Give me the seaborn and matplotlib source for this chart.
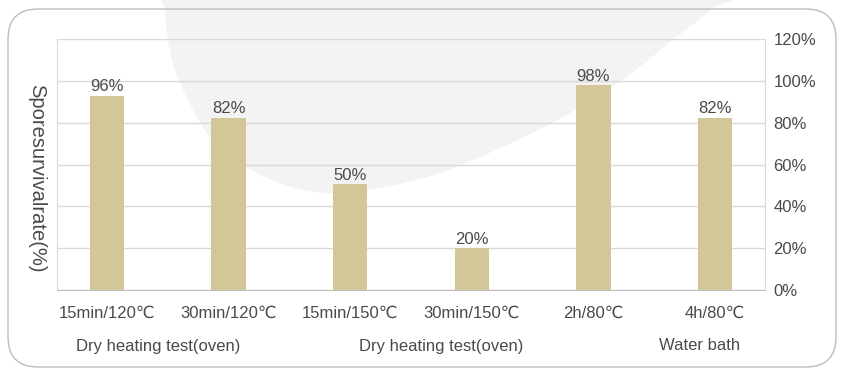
import numpy as np
import pandas as pd
import matplotlib
matplotlib.use("Agg")
import matplotlib.pyplot as plt
import matplotlib.transforms as mtransforms
from matplotlib.patches import FancyBboxPatch, Polygon
from matplotlib.ticker import FuncFormatter
import seaborn as sns

# dados
conditions = ["15min/120℃", "30min/120℃", "15min/150℃", "30min/150℃", "2h/80℃", "4h/80℃"]
survival = [93, 82.5, 50.5, 20, 98, 82.5]          # altura das barras como desenhadas
value_labels = ["96%", "82%", "50%", "20%", "98%", "82%"]
groups = ["Dry heating test(oven)", "Dry heating test(oven)", "Water bath"]
group_pos = [0.42, 2.75, 4.87]
yticks = [0, 20, 40, 60, 80, 100, 120]

df = pd.DataFrame({"condition": conditions, "survival": survival})

sns.set_style("white")
plt.rcParams["font.family"] = ["Liberation Sans", "DejaVu Sans"]

text_color = "#4a4a4a"
bar_color = "#d3c799"

W, H = 842, 371
fig = plt.figure(figsize=(W / 100, H / 100), dpi=100)
fig.patch.set_facecolor("white")

# mancha cinza de fundo (pixels, y a partir do topo)
blob = np.array([(168, -30), (165, 10), (172, 60), (188, 100), (212, 140), (246, 167),
                 (285, 185), (330, 193), (390, 186), (456, 167), (552, 123), (621, 81),
                 (674, 39), (712, 9), (740, -20), (600, -120), (350, -120)], dtype=float)
n = len(blob)
curve = []
for i in range(n):
    p0, p1, p2, p3 = blob[i - 1], blob[i], blob[(i + 1) % n], blob[(i + 2) % n]
    for t in np.linspace(0, 1, 16, endpoint=False):
        t2, t3 = t * t, t * t * t
        curve.append(0.5 * ((2 * p1) + (-p0 + p2) * t + (2 * p0 - 5 * p1 + 4 * p2 - p3) * t2
                            + (-p0 + 3 * p1 - 3 * p2 + p3) * t3))
curve = np.array(curve)
curve[:, 1] = H - curve[:, 1]
fig.patches.append(Polygon(curve, closed=True, facecolor="#f3f3f3", edgecolor="none",
                           transform=mtransforms.IdentityTransform(), zorder=-2))

# moldura arredondada
fig.patches.append(FancyBboxPatch((8, 4), 828, 358, boxstyle="round,pad=0,rounding_size=30",
                                  facecolor="none", edgecolor="#bdbdbd", linewidth=1.0,
                                  transform=mtransforms.IdentityTransform(), zorder=-1))

ax = fig.add_axes([57 / W, 1 - 290 / H, (765 - 57) / W, (290 - 39.3) / H])
ax.set_facecolor("none")

sns.barplot(data=df, x="condition", y="survival", color=bar_color, width=0.284,
            saturation=1, linewidth=0, ax=ax, zorder=3)

ax.bar_label(ax.containers[0], labels=value_labels, padding=1, fontsize=12, color=text_color)

ax.set_xlim(-0.41, 5.41)
ax.set_ylim(0, 120)
ax.set_yticks(yticks)
ax.yaxis.tick_right()
ax.yaxis.set_major_formatter(FuncFormatter(lambda v, p: f"{v:.0f}%"))
ax.grid(axis="y", color="#d9d9d9", linewidth=1.0, zorder=0)
ax.set_axisbelow(True)

for s in ["left", "right"]:
    ax.spines[s].set_color("#d9d9d9")
ax.spines["top"].set_visible(False)
ax.spines["bottom"].set_color("#bfbfbf")

ax.tick_params(axis="x", length=0, pad=11, labelsize=12, labelcolor=text_color)
ax.tick_params(axis="y", length=0, pad=6, labelsize=12, labelcolor=text_color)
ax.set_xlabel("")
ax.set_ylabel("")

trans = mtransforms.blended_transform_factory(ax.transData, fig.transFigure)
for g, gx in zip(groups, group_pos):
    ax.text(gx, 1 - 346 / H, g, transform=trans, ha="center", va="center",
            fontsize=12, color=text_color)

fig.text(37 / W, 1 - 178 / H, "Sporesurvivalrate(%)", rotation=-90, ha="center", va="center",
         fontsize=14.5, color=text_color)

fig.savefig("out.png", dpi=100)
